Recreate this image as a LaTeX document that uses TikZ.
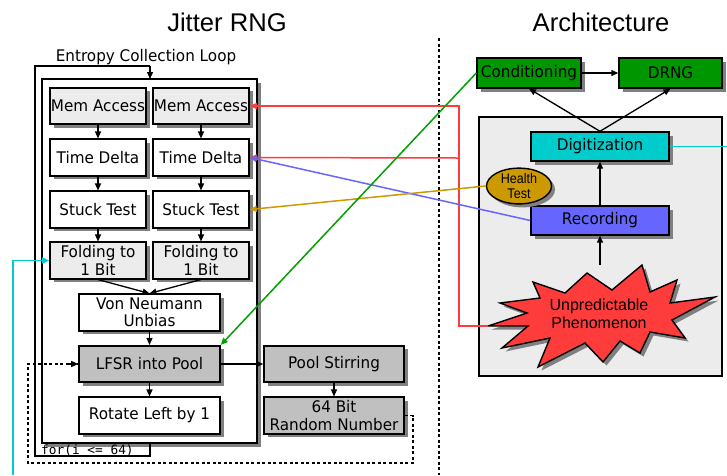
\documentclass[tikz,border=0pt]{standalone}
\usepackage{fontspec}
\setmainfont[FakeStretch=0.95]{DejaVu Sans}
\setmonofont{DejaVu Sans Mono}
\newfontfamily\lib{Liberation Sans}
\newfontfamily\libn[FakeStretch=0.9]{Liberation Sans}
\usetikzlibrary{shadows,arrows.meta,shapes.geometric,calc}
\definecolor{lgray}{RGB}{236,236,236}
\definecolor{mgray}{RGB}{192,192,192}
\definecolor{shgray}{RGB}{128,128,128}
\definecolor{cgreen}{RGB}{0,150,0}
\definecolor{ccyan}{RGB}{0,204,204}
\definecolor{cblue}{RGB}{102,102,255}
\definecolor{cgold}{RGB}{204,153,0}
\definecolor{cred}{RGB}{255,60,60}
\definecolor{lgreen}{RGB}{0,160,0}
\begin{document}
\begin{tikzpicture}[x=1pt,y=-1pt,
  shad/.style={drop shadow={shadow xshift=3.5pt,shadow yshift=-3.5pt,fill=shgray,opacity=1}},
  bx/.style={draw=black,line width=1.6pt,inner sep=0pt,align=center,shad,
    font=\fontsize{16}{17.5}\selectfont},
  sbox/.style={bx,minimum width=96pt,minimum height=36.5pt},
  wbox/.style={bx,minimum width=141pt,minimum height=36.5pt},
  rbox/.style={bx,line width=1.4pt,minimum width=138pt,minimum height=29pt},
  arr/.style={-{Triangle[length=7pt,width=6pt]},line width=1.3pt},
  carr/.style={-{Triangle[length=7pt,width=6pt]},line width=1.5pt},
  dotl/.style={line width=1.8pt,dash pattern=on 3pt off 2.5pt},
  titlef/.style={font=\lib\fontsize{25.6}{28}\selectfont}
]
\useasboundingbox (0,0) rectangle (727,475);

% titles
\node[titlef] (t1) at (227,22) {Jitter RNG};
\node[titlef] (t2) at (601,22) {Architecture};

% separator
\coordinate (sepT) at (439,38);
\coordinate (sepB) at (439,475);
\draw[dotl,line width=1.5pt] (sepT) -- (sepB);

% entropy loop
\node[font=\fontsize{16}{17}\selectfont] (ecl) at (146,57) {Entropy Collection Loop};
\coordinate (oa) at (35,66);
\coordinate (ob) at (150,66);
\coordinate (oc) at (35,456);
\coordinate (od) at (150,456);
\coordinate (oe) at (150,443);
\fill[shgray] (45.5,82.5) rectangle (260.5,446.5);
\draw[line width=1.8pt,fill=white] (42,79) rectangle (257,443);
\draw[line width=1.8pt] (oe) -- (od) -- (oc) -- (oa) -- (ob);
\coordinate (innertop) at (150,79);
\draw[arr] (ob) -- (innertop);
\node[anchor=base west,font=\ttfamily\fontsize{12.8}{14}\selectfont,inner sep=0pt] (forl) at (41,454) {for(i <= 64)};

% left column boxes
\node[sbox,fill=lgray] (mem1) at (98,106) {Mem Access};
\node[sbox,fill=lgray] (mem2) at (201,106) {Mem Access};
\node[sbox,fill=white] (td1) at (98,157.5) {Time Delta};
\node[sbox,fill=white] (td2) at (201,157.5) {Time Delta};
\node[sbox,fill=white] (st1) at (98,209.5) {Stuck Test};
\node[sbox,fill=white] (st2) at (201,209.5) {Stuck Test};
\node[sbox,fill=lgray] (fo1) at (98,260.5) {Folding to\\1 Bit};
\node[sbox,fill=lgray] (fo2) at (201,260.5) {Folding to\\1 Bit};
\node[wbox,fill=white] (vn) at (149.5,312.5) {Von Neumann\\Unbias};
\node[wbox,fill=mgray] (lf) at (149.5,364) {LFSR into Pool};
\node[wbox,fill=white] (rl) at (149.5,415.5) {Rotate Left by 1};
\node[wbox,fill=mgray,minimum width=140pt] (ps) at (334,364) {Pool Stirring};
\node[wbox,fill=mgray,minimum width=140pt] (rn) at (334,415.5) {64 Bit\\Random Number};

\draw[arr] (mem1) -- (td1);
\draw[arr] (mem2) -- (td2);
\draw[arr] (td1) -- (st1);
\draw[arr] (td2) -- (st2);
\draw[arr] (st1) -- (fo1);
\draw[arr] (st2) -- (fo2);
\draw[arr] (fo1.south) -- (vn.north);
\draw[arr] (fo2.south) -- (vn.north);
\draw[arr] (vn) -- (lf);
\draw[arr] (lf) -- (rl);
\draw[arr] (lf) -- (ps);
\draw[arr] (ps) -- (rn);

% dotted feedback loop
\coordinate (l1) at (413,463);
\coordinate (l2) at (28,463);
\coordinate (l3) at (66,364);
\draw[dotl] (rn.east) -| (l1) -- (l2) |- (lf.west);
\draw[arr] (l3) -- (lf.west);

% architecture panel
\draw[line width=1.2pt,fill=lgray] (479,117) rectangle (722,376);
\node[bx,line width=1.4pt,fill=cgreen,minimum width=104pt,minimum height=30pt] (cond) at (529,73) {Conditioning};
\node[bx,line width=1.4pt,fill=cgreen,minimum width=103pt,minimum height=30pt] (drng) at (670.5,73) {DRNG};
\node[rbox,fill=ccyan] (dig) at (600,146.5) {Digitization};
\node[rbox,fill=cblue] (rec) at (600,220.5) {Recording};
\node[ellipse,draw=black,line width=1.4pt,fill=cgold,minimum width=65pt,minimum height=34pt,inner sep=0pt,shad,align=center,
  font=\libn\fontsize{14}{15}\selectfont] (ht) at (519,186) {Health\\Test};

% starburst
\begin{scope}[shift={(3.5,3.5)}]
\fill[shgray] (533,282) -- (565,293) -- (587,273) -- (612,290) -- (642,265) -- (650,292) -- (677,280) -- (670,303) -- (715,297) -- (672,320) -- (685,338) -- (650,332) -- (640,353) -- (620,341) -- (603,362) -- (585,343) -- (538,367) -- (550,338) -- (502,348) -- (528,326) -- (488,326) -- (527,313) -- (500,303) -- (540,298) -- cycle;
\end{scope}
\draw[line width=1.4pt,fill=cred,line join=miter] (533,282) -- (565,293) -- (587,273) -- (612,290) -- (642,265) -- (650,292) -- (677,280) -- (670,303) -- (715,297) -- (672,320) -- (685,338) -- (650,332) -- (640,353) -- (620,341) -- (603,362) -- (585,343) -- (538,367) -- (550,338) -- (502,348) -- (528,326) -- (488,326) -- (527,313) -- (500,303) -- (540,298) -- cycle;
\node[align=center,font=\lib\fontsize{16}{18}\selectfont] (star) at (599,314) {Unpredictable\\Phenomenon};
\coordinate (startop) at (600,265);
\coordinate (startip) at (488,326);

\draw[arr] (startop) -- (rec.south);
\draw[arr] (rec.north) -- (dig.south);
\draw[arr] (dig.north) -- (cond.south);
\draw[arr] (dig.north) -- (drng.south);
\draw[arr] (cond.east) -- (drng.west);

% colored connectors
\coordinate (rj) at (459,326);
\coordinate (rb) at (459,158);
\coordinate (cyR) at (727,146.5);
\coordinate (cyB) at (13,475);
\draw[cred,carr] (startip) -| (rj) |- (mem2.east);
\draw[cred,carr] (rb) -- (td2.east);
\draw[cblue,carr] (rec.west) -- (td2.east);
\draw[cgold,carr] (ht.west) -- (st2.east);
\draw[lgreen,carr] (cond.west) -- (lf.north east);
\draw[ccyan,line width=1.5pt] (dig.east) -- (cyR);
\draw[ccyan,carr] (cyB) |- (fo1.west);
\end{tikzpicture}
\end{document}
